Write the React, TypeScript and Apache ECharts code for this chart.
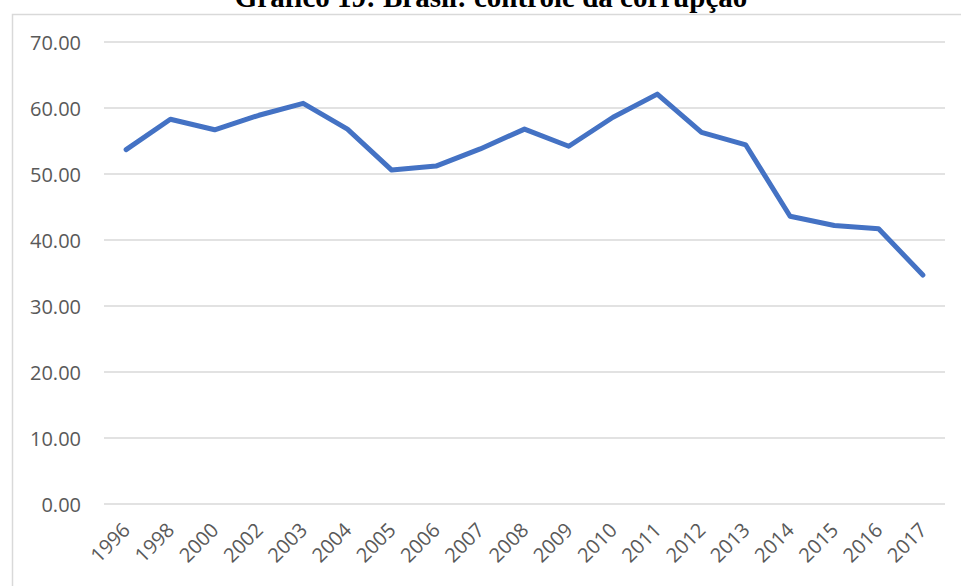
import React, { useEffect, useRef } from "react";
import * as echarts from "echarts";

const titleText = "Gráfico 19: Brasil: controle da corrupção";
const years = ["1996", "1998", "2000", "2002", "2003", "2004", "2005", "2006", "2007", "2008", "2009", "2010", "2011", "2012", "2013", "2014", "2015", "2016", "2017"];
const values = [53.7, 58.3, 56.7, 58.9, 60.7, 56.8, 50.6, 51.2, 53.8, 56.8, 54.2, 58.6, 62.1, 56.3, 54.4, 43.6, 42.2, 41.7, 34.7];

export default function App() {
  const ref = useRef<HTMLDivElement>(null);
  useEffect(() => {
    if (!ref.current) return;
    const chart = echarts.init(ref.current, null, { renderer: "svg" });
    chart.setOption({
      animation: false,
      backgroundColor: "#ffffff",
      graphic: [
        {
          type: "rect",
          left: 10,
          top: 12,
          shape: { width: 1000, height: 700 },
          style: { fill: "none", stroke: "#d9d9d9", lineWidth: 1.5 },
          z: -1,
        },
        {
          type: "text",
          x: 491,
          y: -3,
          style: {
            text: titleText,
            font: "bold 29px 'Liberation Serif', 'Times New Roman', serif",
            fill: "#000000",
            align: "center",
            verticalAlign: "middle",
          },
        },
      ],
      grid: { left: 104, right: 16, top: 42, bottom: 82, containLabel: false },
      xAxis: {
        type: "category",
        data: years,
        boundaryGap: true,
        axisLine: { show: false },
        axisTick: { show: false },
        axisLabel: {
          rotate: 45,
          margin: 22,
          color: "#595959",
          fontFamily: "'Open Sans', sans-serif",
          fontSize: 20,
          interval: 0,
        },
      },
      yAxis: {
        type: "value",
        min: 0,
        max: 70,
        interval: 10,
        axisLine: { show: false },
        axisTick: { show: false },
        splitLine: { lineStyle: { color: "#d9d9d9", width: 1.5 } },
        axisLabel: {
          margin: 23,
          color: "#595959",
          fontFamily: "'Open Sans', sans-serif",
          fontSize: 20,
          formatter: (v: number) => v.toFixed(2),
        },
      },
      series: [
        {
          type: "line",
          data: values,
          showSymbol: false,
          symbol: "none",
          lineStyle: { color: "#4472C4", width: 5, cap: "round", join: "round" },
          itemStyle: { color: "#4472C4" },
        },
      ],
    });
    return () => chart.dispose();
  }, []);
  return <div ref={ref} style={{ position: "fixed", left: 0, top: 0, width: 961, height: 586 }} />;
}
